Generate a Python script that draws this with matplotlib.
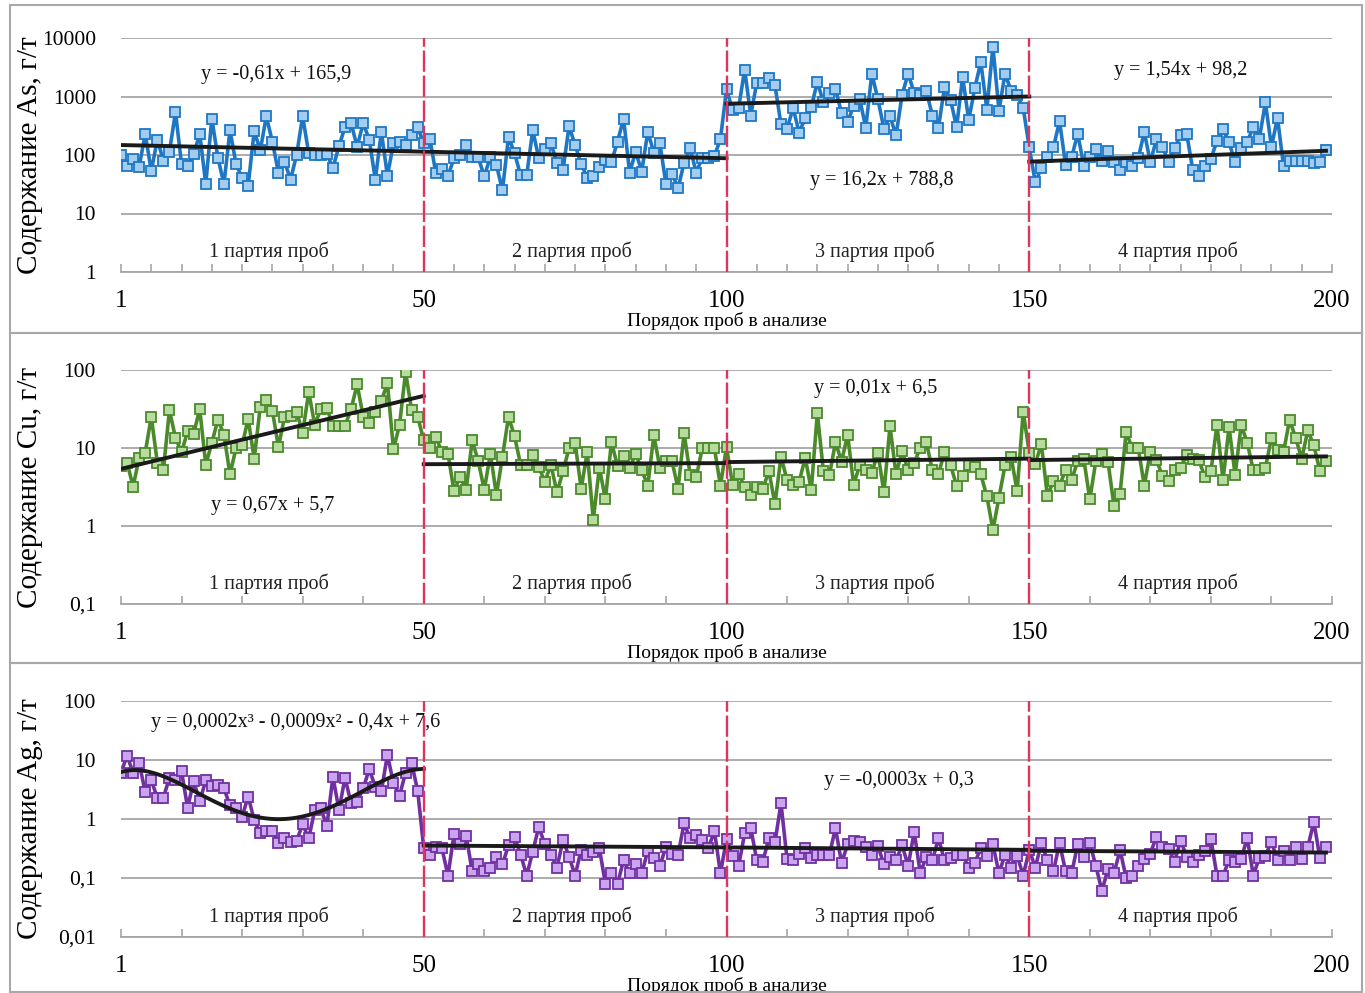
import numpy as np
import matplotlib
matplotlib.use("Agg")
import matplotlib.pyplot as plt
from matplotlib.patches import Rectangle
from matplotlib.ticker import NullLocator

plt.rcParams['font.family'] = ['Liberation Serif', 'DejaVu Serif']

# sample order and batches
samples = np.arange(1, 201)
batch_starts = [1, 51, 101, 151]
batch_ends = [51, 101, 151, 200]
batch_names = ["1 партия проб", "2 партия проб", "3 партия проб", "4 партия проб"]
tick_pos = [1, 51, 101, 151, 201]
tick_labels = ["1", "50", "100", "150", "200"]

# As, g/t
as_vals = [100, 65, 85, 63, 230, 53, 184, 80, 114, 540, 70, 65, 103, 230, 32, 420, 90, 32, 265, 70,
           41, 30, 255, 120, 460, 168, 50, 77, 38, 100, 460, 107, 100, 100, 104, 60, 142, 300, 350, 138,
           350, 184, 38, 250, 44, 158, 168, 150, 218, 300,
           158, 190, 49, 57, 44, 88, 100, 150, 91, 91, 43, 94, 68, 25, 205, 107, 45, 45, 265, 88,
           125, 158, 74, 56, 310, 148, 70, 41, 43, 63, 82, 77, 168, 420, 50, 114, 52, 250, 110, 158,
           32, 48, 27, 74, 130, 50, 90, 88, 96, 187,
           1330, 596, 636, 2890, 473, 1720, 1720, 2036, 1570, 333, 281, 636, 241, 431, 653, 1790, 792, 1138, 1330, 524,
           365, 696, 902, 292, 2470, 902, 281, 460, 217, 1067, 2470, 1138, 1067, 1246, 473, 292, 1436, 879, 300, 2170,
           394, 1380, 3890, 596, 7140, 573, 2470, 1246, 1067, 636,
           135, 34, 60, 91, 135, 380, 68, 91, 232, 66, 94, 126, 80, 118, 75, 56, 77, 66, 88, 247,
           75, 186, 135, 77, 132, 217, 232, 56, 43, 66, 86, 174, 274, 164, 75, 131, 168, 300, 191, 790,
           138, 432, 64, 80, 80, 80, 80, 72, 77, 123]

# Cu, g/t
cu_vals = [5.9, 6.5, 3.2, 7.5, 8.7, 25.2, 6.5, 5.2, 30.6, 13.4, 8.9, 16.3, 15.2, 31.5, 6.1, 11.6, 23.1, 14.8, 4.6, 10,
           10.8, 23.6, 7.3, 33.8, 41.5, 30, 10.3, 24.7, 25.5, 29.2, 15.5, 52.4, 19.8, 31.5, 32.2, 19.4, 19.4, 19.4, 31.5, 65.6,
           25.2, 20.7, 29.2, 40.3, 67.4, 9.6, 19.8, 94, 30.6, 25.2,
           12.5, 10, 13.8, 8.9, 8.5, 2.8, 4.3, 2.9, 12.5, 6.8, 2.9, 8.5, 2.5, 7.7, 25.2, 14.1, 6.1, 6.1, 8.2, 5.7,
           3.7, 6.1, 2.7, 5, 10, 11.6, 3, 8.9, 1.2, 5.6, 2.2, 11.9, 5.9, 7.9, 5.5, 8.5, 5.2, 3.3, 14.5, 5.6,
           6.8, 6.8, 3, 15.5, 4.5, 4.2, 10, 10, 10, 3.3,
           10.3, 3.4, 4.6, 3.2, 2.5, 3.2, 3.0, 5.1, 1.9, 7.7, 3.9, 3.4, 3.7, 7.5, 2.9, 27.8, 5.1, 4.5, 11.9, 6.7,
           14.8, 3.4, 6, 5.2, 4.8, 8.7, 2.7, 19, 4.6, 9.1, 5.2, 6.5, 10, 11.9, 5.2, 4.6, 8.9, 6, 3.3, 4.4,
           6.1, 5.7, 4.6, 2.4, 0.89, 2.3, 6, 7.7, 2.8, 29.2,
           8.7, 6.3, 11.3, 2.4, 3.8, 3.3, 5.2, 3.9, 6.8, 7.3, 2.2, 6.8, 8.5, 6.7, 1.8, 2.6, 16, 10, 10, 3.3,
           8.9, 7, 4.4, 3.8, 5.3, 5.6, 8.1, 7.3, 7, 4.3, 5, 19.8, 3.9, 18.5, 4.5, 19.8, 11.7, 5.2, 5.3, 5.6,
           13.4, 9.3, 8.9, 23.1, 13.4, 7.3, 16.8, 10.8, 5.1, 6.8]

# Ag, g/t
ag_vals = [6.1, 11.8, 6.1, 8.8, 2.9, 4.5, 2.3, 2.3, 5, 4.5, 6.4, 1.55, 4.4, 2.0, 4.5, 3.6, 3.7, 3.3, 1.7, 1.55,
           1.1, 2.4, 0.96, 0.57, 0.63, 0.63, 0.39, 0.48, 0.41, 0.43, 0.81, 0.47, 1.42, 1.51, 0.76, 5.2, 1.42, 5, 1.84, 1.96,
           3.3, 7, 3.5, 2.96, 12.3, 4, 2.5, 6.1, 8.8, 3.0,
           0.32, 0.25, 0.33, 0.32, 0.11, 0.55, 0.37, 0.52, 0.13, 0.17, 0.13, 0.15, 0.23, 0.17, 0.36, 0.49, 0.25, 0.11, 0.28, 0.74,
           0.37, 0.25, 0.15, 0.44, 0.23, 0.11, 0.3, 0.25, 0.28, 0.32, 0.08, 0.12, 0.08, 0.2, 0.12, 0.17, 0.12, 0.29, 0.22, 0.16,
           0.34, 0.26, 0.25, 0.84, 0.47, 0.54, 0.44, 0.32, 0.63, 0.12,
           0.45, 0.24, 0.16, 0.57, 0.71, 0.2, 0.19, 0.47, 0.4, 1.84, 0.21, 0.2, 0.26, 0.32, 0.22, 0.25, 0.25, 0.25, 0.7, 0.18,
           0.37, 0.43, 0.41, 0.34, 0.25, 0.35, 0.17, 0.23, 0.2, 0.36, 0.16, 0.61, 0.12, 0.23, 0.2, 0.47, 0.2, 0.22, 0.25, 0.25,
           0.15, 0.18, 0.32, 0.24, 0.37, 0.12, 0.25, 0.15, 0.24, 0.11,
           0.3, 0.15, 0.39, 0.2, 0.13, 0.39, 0.13, 0.12, 0.37, 0.23, 0.39, 0.16, 0.061, 0.14, 0.12, 0.3, 0.1, 0.11, 0.16, 0.21,
           0.26, 0.5, 0.34, 0.31, 0.19, 0.43, 0.23, 0.19, 0.25, 0.29, 0.46, 0.11, 0.11, 0.2, 0.19, 0.21, 0.48, 0.11, 0.22, 0.24,
           0.41, 0.2, 0.29, 0.2, 0.34, 0.21, 0.33, 0.9, 0.22, 0.34]

# trend lines as drawn on the chart: value at start and end of each batch
as_trend = [(148, 114), (114, 88), (752, 1000), (77, 118)]
cu_trend = [(5.4, 46.6), (6.2, 6.4), (6.6, 7.3), (7.0, 7.8)]
ag_trend = [None, (0.355, 0.33), (0.33, 0.30), (0.29, 0.27)]
# polynomial trend of Ag batch 1, read at a few sample numbers
ag_curve_x = [1, 11, 21, 28, 36, 44, 51]
ag_curve_vals = [6.3, 3.65, 1.42, 0.9, 1.68, 4.4, 7.0]

# trend equations as printed on the chart (None = not shown)
as_eqs = ["y = -0,61x + 165,9", None, "y = 16,2x + 788,8", "y = 1,54x + 98,2"]
cu_eqs = ["y = 0,67x + 5,7", None, "y = 0,01x + 6,5", None]
ag_eqs = ["y = 0,0002x³ - 0,0009x² - 0,4x + 7,6", None, "y = -0,0003x + 0,3", None]

ylabels = ["Содержание As, г/т", "Содержание Cu, г/т", "Содержание Ag, г/т"]
xlabel = "Порядок проб в анализе"

W, H = 1365, 993
fig = plt.figure(figsize=(W / 100, H / 100), dpi=100)

# panel boxes
for top, bot in [(5, 333), (333, 663), (663, 992)]:
    fig.add_artist(Rectangle((10 / W, 1 - bot / H), 1352 / W, (bot - top) / H,
                             transform=fig.transFigure, fill=False, ec='#a8a8a8', lw=1.5))

panels = [
    dict(vals=as_vals, eqs=as_eqs, trend=as_trend, ylim=(1, 10000), top=38, bot=272, step=5,
         line='#1f77c4', face='#a2cdf0',
         eqpos={0: (0.128, 0.842), 2: (0.628, 0.393), 3: (0.875, 0.859)}),
    dict(vals=cu_vals, eqs=cu_eqs, trend=cu_trend, ylim=(0.1, 100), top=370, bot=604, step=10,
         line='#4b8a2b', face='#b8dca0',
         eqpos={0: (0.125, 0.423), 2: (0.623, 0.919)}),
    dict(vals=ag_vals, eqs=ag_eqs, trend=ag_trend, ylim=(0.01, 100), top=701, bot=937, step=10,
         line='#7030a0', face='#caa4ef',
         eqpos={0: (0.144, 0.907), 2: (0.642, 0.665)}),
]

grey = '#a6a6a6'
for i, p in enumerate(panels):
    ax = fig.add_axes([121 / W, 1 - p['bot'] / H, 1211 / W, (p['bot'] - p['top']) / H])
    ax.plot(samples, p['vals'], color=p['line'], lw=2.6, marker='s', ms=7.5,
            mfc=p['face'], mec=p['line'], mew=1.3, zorder=3)

    # trend lines for each batch
    for b in range(4):
        tr = p['trend'][b]
        if tr is None:
            coef = np.polyfit(ag_curve_x, np.log10(ag_curve_vals), 4)
            xl = np.linspace(batch_starts[b], batch_ends[b], 120)
            ax.plot(xl, 10 ** np.polyval(coef, xl), color='#1a1a1a', lw=2.8, zorder=4)
        else:
            ax.plot([batch_starts[b], batch_ends[b]], tr, color='#1a1a1a', lw=2.8, zorder=4)

    for s in batch_starts[1:]:
        ax.axvline(s, color='#e0335e', lw=1.7, ls=(0, (9, 1.6)), zorder=5)

    ax.set_yscale('log')
    ax.set_ylim(*p['ylim'])
    ax.set_xlim(1, 201)
    lo, hi = np.log10(p['ylim'])
    yt = 10.0 ** np.arange(lo, hi + 1)
    ax.set_yticks(yt)
    ax.set_yticklabels([f"{v:g}".replace('.', ',') for v in yt])
    ax.yaxis.set_minor_locator(NullLocator())
    ax.grid(axis='y', color=grey, lw=1.3)
    ax.set_axisbelow(True)
    for side in ['left', 'right', 'top']:
        ax.spines[side].set_visible(False)
    ax.spines['bottom'].set_color(grey)
    ax.spines['bottom'].set_linewidth(1.3)
    ax.tick_params(axis='y', length=0, pad=18, labelsize=15.5)

    ax.set_xticks(tick_pos)
    ax.set_xticklabels(tick_labels)
    ax.set_xticks(np.arange(1, 202, p['step']), minor=True)
    ax.tick_params(axis='x', which='both', direction='in', length=6, width=1.2,
                   color=grey, pad=13, labelsize=18)

    hpx = p['bot'] - p['top']
    ax.text(0.5, -49 / hpx, xlabel, transform=ax.transAxes, ha='center', va='center', fontsize=14)

    for b, s in enumerate(batch_starts):
        ax.text((s + 24.5 - 1) / 200, 0.085, batch_names[b], transform=ax.transAxes,
                ha='center', va='center', fontsize=14.5, color='#222222')

    for b, txt in enumerate(p['eqs']):
        if txt is None:
            continue
        fx, fy = p['eqpos'][b]
        ax.text(fx, fy, txt, transform=ax.transAxes, ha='center', va='center',
                fontsize=14.5, color='#111111', zorder=6)

    yc = 1 - (p['top'] + p['bot']) / 2 / H
    fig.text(30 / W, yc, ylabels[i], rotation=90, ha='center', va='center', fontsize=21)

fig.savefig('out.png', dpi=100)
